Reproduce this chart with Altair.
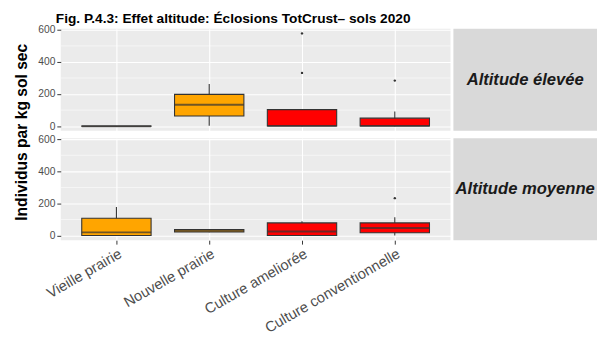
import altair as alt
import pandas as pd

title_text = "Fig. P.4.3: Effet altitude: Éclosions TotCrust– sols 2020"
y_title = "Individus par kg sol sec"
x_title = "Gradient d'utilisation des terres"

categories = ["Vieille prairie", "Nouvelle prairie", "Culture ameliorée", "Culture conventionnelle"]
fills = ["#FFA500", "#FFA500", "#FF0000", "#FF0000"]
panels = ["Altitude élevée", "Altitude moyenne"]

# Altitude élevée : box statistics
hi_low = [0, 2, 0, 0]
hi_q1 = [0, 63, 1, 1]
hi_med = [0, 134, 2, 2]
hi_q3 = [1, 198, 103, 50]
hi_up = [1, 262, 103, 91]

# Altitude moyenne : box statistics
mo_low = [0, 20, 0, 0]
mo_q1 = [1, 22, 1, 18]
mo_med = [20, 30, 26, 47]
mo_q3 = [108, 38, 79, 79]
mo_up = [178, 40, 89, 114]

# outliers
out_panel = ["Altitude élevée", "Altitude élevée", "Altitude élevée", "Altitude moyenne"]
out_cat = ["Culture ameliorée", "Culture ameliorée", "Culture conventionnelle", "Culture conventionnelle"]
out_val = [578, 332, 284, 233]

y_ticks = [0, 200, 400, 600]
y_minor = [100, 300, 500]
y_domain = [-28.9, 606.9]

PW, PH = 399, 104.5
STRIP_W = 147


def yenc(field):
    return alt.Y(
        field,
        type="quantitative",
        scale=alt.Scale(domain=y_domain, nice=False, zero=False),
        axis=alt.Axis(values=y_ticks, title=None, grid=True, gridColor="white",
                      gridWidth=1.1, labelColor="#4D4D4D", labelFontSize=10.5,
                      tickColor="#333333", tickSize=4, labelPadding=2, domain=False),
    )


def xenc(bottom):
    if bottom:
        ax = alt.Axis(labelAngle=330, labelAlign="right", labelBaseline="top",
                      labelFontSize=15, labelColor="#4D4D4D", tickColor="#333333",
                      tickSize=4, labelPadding=2, domain=False, grid=True,
                      gridColor="white", gridWidth=1.1, title=x_title,
                      titleFontSize=16, titleFontWeight="bold", titleColor="black",
                      titlePadding=10, labelOverlap=False)
    else:
        ax = alt.Axis(labels=False, ticks=False, domain=False, grid=True,
                      gridColor="white", gridWidth=1.1, title=None)
    return alt.X("cat:N", scale=alt.Scale(type="point", domain=categories, padding=0.6), axis=ax)


def panel(name, low, q1, med, q3, up, bottom):
    df = pd.DataFrame({"cat": categories, "fill": fills, "low": low, "q1": q1,
                       "med": med, "q3": q3, "up": up})
    minor = pd.DataFrame({"v": y_minor})
    odf = pd.DataFrame({"panel": out_panel, "cat": out_cat, "v": out_val})
    odf = odf[odf["panel"] == name]

    grid_minor = alt.Chart(minor).mark_rule(color="white", strokeWidth=0.55).encode(y=yenc("v"))
    whisk = alt.Chart(df).mark_rule(color="#333333", strokeWidth=1.1).encode(
        x=xenc(bottom), y=yenc("low"), y2="up")
    box = alt.Chart(df).mark_bar(size=71, stroke="#333333", strokeWidth=1.1).encode(
        x=xenc(bottom), y=yenc("q1"), y2="q3",
        fill=alt.Fill("fill:N", scale=None))
    medl = alt.Chart(df).mark_tick(size=71, thickness=2, color="#333333").encode(
        x=xenc(bottom), y=yenc("med"))
    outl = alt.Chart(odf).mark_circle(size=6, color="#333333", opacity=1).encode(
        x=xenc(bottom), y=yenc("v"))
    return alt.layer(grid_minor, whisk, box, medl, outl).properties(
        width=PW, height=PH, view=alt.ViewBackground(fill="#EBEBEB", strokeWidth=0))


def strip(name):
    sdf = pd.DataFrame({"label": [name]})
    return alt.Chart(sdf).mark_text(fontSize=17, fontWeight="bold", fontStyle="italic",
                                    color="#1A1A1A").encode(
        text="label:N", x=alt.value(STRIP_W / 2), y=alt.value(PH / 2)
    ).properties(width=STRIP_W, height=PH,
                 view=alt.ViewBackground(fill="#D9D9D9", strokeWidth=0))


top_row = alt.hconcat(panel(panels[0], hi_low, hi_q1, hi_med, hi_q3, hi_up, False),
                      strip(panels[0]), spacing=2)
bot_row = alt.hconcat(panel(panels[1], mo_low, mo_q1, mo_med, mo_q3, mo_up, True),
                      strip(panels[1]), spacing=2)
inner = alt.vconcat(top_row, bot_row, spacing=2)

ytc = alt.Chart(pd.DataFrame({"t": [y_title]})).mark_text(
    angle=270, fontSize=16, fontWeight="bold", color="black").encode(
    text="t:N", x=alt.value(14), y=alt.value(106)
).properties(width=22, height=2 * PH + 2)

chart = alt.hconcat(ytc, inner, spacing=7).properties(
    title=alt.TitleParams(text=title_text, anchor="start", fontSize=14,
                          fontWeight="bold", color="black", dx=49, offset=-1),
    padding={"left": 0, "top": 0, "right": 0, "bottom": 0},
).configure(font="Liberation Sans").configure_view(strokeWidth=0)

chart.save("out.html", embed_options={"renderer": "svg", "actions": False})
